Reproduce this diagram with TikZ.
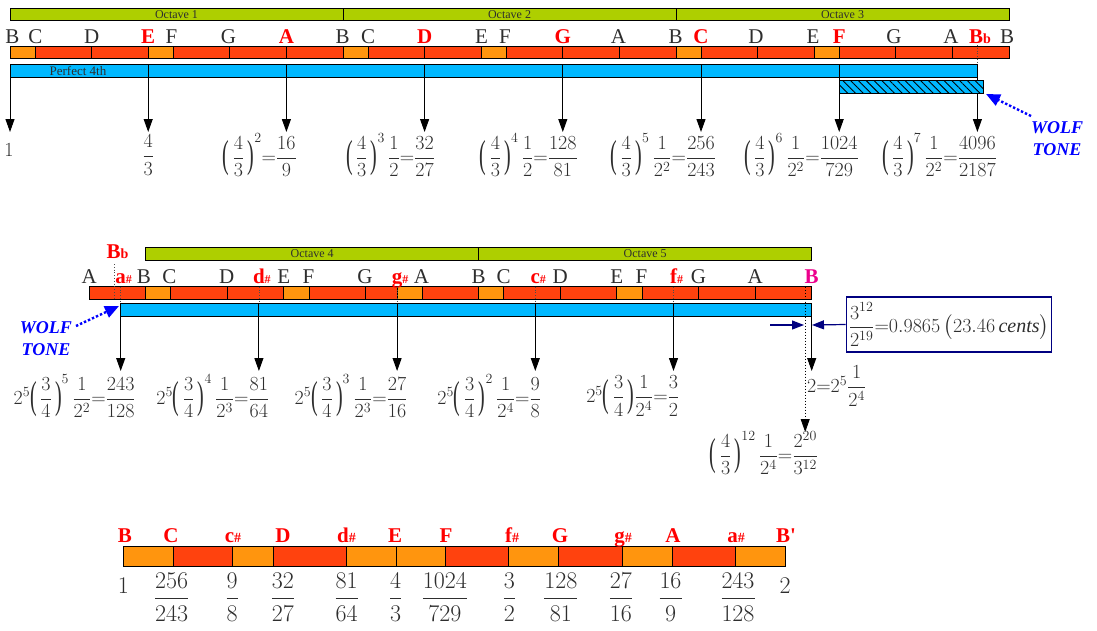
\documentclass[tikz,border=0pt]{standalone}
\usepackage{fix-cm}
\usepackage{graphicx}
\usepackage{mathtools}
\usepackage{fontspec}
\setmainfont{Liberation Serif}
\usetikzlibrary{arrows.meta}
\usetikzlibrary{patterns.meta}

\definecolor{octGreen}{HTML}{AECF00}
\definecolor{keyRed}{HTML}{FF420E}
\definecolor{keyOrange}{HTML}{FF950E}
\definecolor{fourthBlue}{HTML}{00B8FF}
\definecolor{textGray}{HTML}{2E2E2E}
\definecolor{boxNavy}{HTML}{000080}

\newcommand{\tallL}{\mathopen{\raisebox{-0.21em}{\scalebox{1}[1.95]{(}}}\,}
\newcommand{\tallR}{\,\mathclose{\raisebox{-0.21em}{\scalebox{1}[1.95]{)}}}}

\begin{document}
\begin{tikzpicture}[x = 1pt, y = -1pt, line width = 0.9pt]
	\useasboundingbox (0,0) rectangle (1097,630);
	\tikzstyle{octaveStyle} = [draw, fill = octGreen]
	\tikzstyle{fourthStyle} = [draw, fill = fourthBlue]
	\tikzstyle{octLabel} = [text = textGray, font = \fontsize{12}{13}\selectfont, inner sep = 0pt]
	\tikzstyle{noteStyle} = [anchor = base, text = textGray, font = \fontsize{21}{22}\selectfont, inner sep = 0pt]
	\tikzstyle{redNote} = [anchor = base, text = red, font = \fontsize{21}{22}\selectfont\bfseries, inner sep = 0pt]
	\tikzstyle{ratioStyle} = [text = textGray, font = \fontsize{20}{22}\selectfont, inner sep = 0pt]
	\tikzstyle{scaleStyle} = [text = textGray, font = \fontsize{24}{26}\selectfont, inner sep = 0pt]
	\tikzstyle{stepArrow} = [-{Triangle[length = 13pt, width = 9pt]}, line width = 1pt]
	\tikzstyle{dotLine} = [dotted, line width = 0.8pt, black!70]
	\tikzstyle{wolfStyle} = [text = blue, font = \fontsize{18}{22}\selectfont\bfseries\itshape, align = center, inner sep = 0pt]
	\tikzstyle{wolfArrow} = [blue, dotted, line width = 2.4pt, -{Triangle[length = 14pt, width = 12pt]}]
	\tikzstyle{navyArrow} = [boxNavy, line width = 1.2pt, -{Triangle[length = 12pt, width = 9pt]}]

	% first line: three octaves
	\foreach \o/\k in {0/1, 333/2, 666/3}{
		\draw[octaveStyle] (10+\o,8.5) rectangle (343+\o,20.5);
		\node[octLabel] (oct\k) at (176.5+\o,14.5) {Octave \k};
		\foreach \a/\b/\col in {0/25/keyOrange, 25/81.6/keyRed, 81.6/138.2/keyRed, 138.2/163.3/keyOrange, 163.3/219.8/keyRed, 219.8/276.4/keyRed, 276.4/333/keyRed}
			\draw[fill = \col] (10+\o+\a,46.5) rectangle (10+\o+\b,58.5);
	}
	\foreach \x/\t [count = \i] in {12.5/B, 35.5/C, 91.6/D, 171.5/F, 228.5/G, 342.5/B, 368/C, 481.5/E, 505/F, 618.5/A, 675.5/B, 756/D, 813/E, 894/G, 951/A, 1007/B}
		\node[noteStyle] (n\i) at (\x,43) {\t};
	\node[redNote] (e1) at (148.2,43) {E};
	\node[redNote] (a1) at (286.4,43) {A};
	\node[redNote] (d2) at (424.6,43) {D};
	\node[redNote] (g2) at (562.8,43) {G};
	\node[redNote] (c3) at (701,43) {C};
	\node[redNote] (f3) at (839.2,43) {F};
	\node[redNote] (bb3) at (980,43) {B{\fontsize{14}{14}\selectfont b}};

	% fourths
	\draw[dotLine] (977.4,45) -- (977.4,64.5);
	\draw[fourthStyle] (10,64.5) rectangle (977.4,77);
	\foreach \i in {1,...,6}
		\draw (10+138.2*\i,64.5) -- (10+138.2*\i,77);
	\node[octLabel, font = \fontsize{13}{14}\selectfont] (p4) at (78,71) {Perfect 4th};
	\foreach \i in {0,...,7}{
		\coordinate (a\i) at (10+138.2*\i,77);
		\coordinate (b\i) at (10+138.2*\i,132);
		\draw[stepArrow] (a\i) -- (b\i);
	}
	\draw[fill = fourthBlue] (839.2,80.5) rectangle (983.9,93);
	\fill[pattern = {Lines[angle = -45, distance = 5.5pt, line width = 0.9pt]}] (839.2,80.5) rectangle (983.9,93);
	\draw (839.2,80.5) rectangle (983.9,93);

	\node[ratioStyle] (r0) at (9,150) {$1$};
	\node[ratioStyle] (r1) at (148.2,155) {$\dfrac{4}{3}$};
	\node[ratioStyle] (r2) at (286.4,155) {$\mathllap{{\tallL\dfrac{4}{3}\tallR}^{2}{=}}\dfrac{16}{9}$};
	\node[ratioStyle] (r3) at (424.6,155) {$\mathllap{{\tallL\dfrac{4}{3}\tallR}^{3}\,\dfrac{1}{2}{=}}\dfrac{32}{27}$};
	\node[ratioStyle] (r4) at (562.8,155) {$\mathllap{{\tallL\dfrac{4}{3}\tallR}^{4}\,\dfrac{1}{2}{=}}\dfrac{128}{81}$};
	\node[ratioStyle] (r5) at (701,155) {$\mathllap{{\tallL\dfrac{4}{3}\tallR}^{5}\,\dfrac{1}{2^{2}}{=}}\dfrac{256}{243}$};
	\node[ratioStyle] (r6) at (839.2,155) {$\mathllap{{\tallL\dfrac{4}{3}\tallR}^{6}\,\dfrac{1}{2^{2}}{=}}\dfrac{1024}{729}$};
	\node[ratioStyle] (r7) at (977.4,155) {$\mathllap{{\tallL\dfrac{4}{3}\tallR}^{7}\,\dfrac{1}{2^{2}}{=}}\dfrac{4096}{2187}$};

	\node[wolfStyle] (wolf1) at (1057,139) {WOLF\\TONE};
	\coordinate (w1) at (1031,116);
	\coordinate (w1tip) at (986,94);
	\draw[wolfArrow] (w1) -- (w1tip);

	% second line: two octaves
	\draw[octaveStyle] (145.7,247.5) rectangle (478.7,260);
	\draw[octaveStyle] (478.7,247.5) rectangle (811.7,260);
	\node[octLabel] (oct4) at (312.2,253.8) {Octave 4};
	\node[octLabel] (oct5) at (645.2,253.8) {Octave 5};
	\foreach \a/\b/\col in {89.1/145.7/keyRed, 145.7/170.7/keyOrange, 170.7/227.3/keyRed, 227.3/283.9/keyRed, 283.9/309/keyOrange, 309/365.5/keyRed, 365.5/397.1/keyRed, 397.1/422.1/keyOrange, 422.1/478.7/keyRed, 478.7/503.7/keyOrange, 503.7/560.3/keyRed, 560.3/616.9/keyRed, 616.9/642/keyOrange, 642/698.5/keyRed, 698.5/755.1/keyRed, 755.1/811.7/keyRed}
		\draw[fill = \col] (\a,286.7) rectangle (\b,299.3);
	\foreach \x/\t [count = \i] in {89.1/A, 144/B, 169.5/C, 226.7/D, 283.7/E, 308.5/F, 365/G, 421.5/A, 478.5/B, 503.7/C, 560.3/D, 616.7/E, 641.5/F, 698.5/G, 755.1/A}
		\node[noteStyle] (m\i) at (\x,283.5) {\t};
	\node[redNote] (as4) at (120.7,283.5) {a\rlap{\fontsize{12}{12}\selectfont\#}};
	\node[redNote] (ds4) at (258.9,283.5) {d\rlap{\fontsize{12}{12}\selectfont\#}};
	\node[redNote] (gs4) at (397.1,283.5) {g\rlap{\fontsize{12}{12}\selectfont\#}};
	\node[redNote] (cs5) at (535.3,283.5) {c\rlap{\fontsize{12}{12}\selectfont\#}};
	\node[redNote] (fs5) at (673.5,283.5) {f\rlap{\fontsize{12}{12}\selectfont\#}};
	\node[redNote, text = magenta] (b5) at (811.7,283.5) {B};
	\node[redNote] (bb4) at (117.5,258) {B{\fontsize{14}{14}\selectfont b}};

	\draw[dotLine] (114.2,264) -- (114.2,299.3);
	\foreach \x in {120.7,258.9,397.1,535.3,673.5}
		\draw[dotLine] (\x,286.7) -- (\x,303.5);
	\draw[fourthStyle] (120.7,303.5) rectangle (811.7,316.7);
	\foreach \x in {258.9,397.1,535.3,673.5}
		\draw (\x,303.5) -- (\x,316.7);
	\foreach \x [count = \i] in {120.7,258.9,397.1,535.3,673.5,811.7}{
		\coordinate (c\i) at (\x,316.7);
		\coordinate (d\i) at (\x,371);
		\draw[stepArrow] (c\i) -- (d\i);
	}
	\coordinate (q0) at (805.2,286.7);
	\coordinate (q1) at (805.2,432);
	\draw[stepArrow, dotted, line width = 0.8pt] (q0) -- (q1);

	\node[draw = boxNavy, line width = 1.8pt, minimum width = 205pt, minimum height = 55pt, text = textGray, font = \fontsize{20}{22}\selectfont, inner sep = 1pt] (comma) at (949,324.5) {$\dfrac{3^{12}}{2^{19}}{=}0.9865\,\bigl(23.46\,\textit{cents}\bigr)$};
	\coordinate (k0) at (770,325);
	\coordinate (k1) at (804,325);
	\coordinate (k2) at (812,325);
	\draw[navyArrow] (k0) -- (k1);
	\draw[navyArrow] (comma.west) -- (k2);

	\node[ratioStyle] (s1) at (120.7,396) {$\mathllap{2^{5}{\tallL\dfrac{3}{4}\tallR}^{5}\,\dfrac{1}{2^{2}}{=}}\dfrac{243}{128}$};
	\node[ratioStyle] (s2) at (258.9,396) {$\mathllap{2^{5}{\tallL\dfrac{3}{4}\tallR}^{4}\,\dfrac{1}{2^{3}}{=}}\dfrac{81}{64}$};
	\node[ratioStyle] (s3) at (397.1,396) {$\mathllap{2^{5}{\tallL\dfrac{3}{4}\tallR}^{3}\,\dfrac{1}{2^{3}}{=}}\dfrac{27}{16}$};
	\node[ratioStyle] (s4) at (535.3,396) {$\mathllap{2^{5}{\tallL\dfrac{3}{4}\tallR}^{2}\,\dfrac{1}{2^{4}}{=}}\dfrac{9}{8}$};
	\node[ratioStyle] (s5) at (673.5,396) {$\mathllap{2^{5}{\tallL\dfrac{3}{4}\tallR}\dfrac{1}{2^{4}}{=}}\dfrac{3}{2}$};
	\node[ratioStyle] (s6) at (811.7,386) {$2\mathrlap{{=}2^{5}\dfrac{1}{2^{4}}}$};
	\node[ratioStyle] (s7) at (805.2,453) {$\mathllap{{\tallL\dfrac{4}{3}\tallR}^{12}\,\dfrac{1}{2^{4}}{=}}\dfrac{2^{20}}{3^{12}}$};

	\node[wolfStyle] (wolf2) at (46,339) {WOLF\\TONE};
	\coordinate (w2) at (76,326);
	\coordinate (w2tip) at (119,306);
	\draw[wolfArrow] (w2) -- (w2tip);

	% third line: the twelve steps
	\foreach \a/\b/\col in {123.3/173.3/keyOrange, 173.3/232.7/keyRed, 232.7/273.3/keyOrange, 273.3/346/keyRed, 346/396/keyOrange, 396/445.3/keyOrange, 445.3/508.7/keyRed, 508.7/558.7/keyOrange, 558.7/622.3/keyRed, 622.3/672.3/keyOrange, 672.3/735.3/keyRed, 735.3/785.3/keyOrange}
		\draw[fill = \col] (\a,546.5) rectangle (\b,566.5);
	\foreach \x/\t [count = \i] in {125/B, 171/C, 283/D, 395/E, 446/F, 560/G, 673/A, 786/B\textquotesingle}
		\node[redNote] (t\i) at (\x,542) {\t};
	\foreach \x/\t [count = \i] in {233/c, 346.5/d, 512/f, 623/g, 736/a}
		\node[redNote] (u\i) at (\x,542) {\t{\fontsize{14}{14}\selectfont\#}};
	\node[scaleStyle] (v0) at (123.3,585.5) {$1$};
	\foreach \x/\p/\q [count = \i] in {171.7/256/243, 232/9/8, 283/32/27, 346.7/81/64, 395.5/4/3, 445/1024/729, 509.3/3/2, 560.8/128/81, 620.8/27/16, 670.5/16/9, 738/243/128}
		\node[scaleStyle] (v\i) at (\x,597.3) {$\dfrac{\p}{\q}$};
	\node[scaleStyle] (v12) at (785,585.5) {$2$};
\end{tikzpicture}
\end{document}
